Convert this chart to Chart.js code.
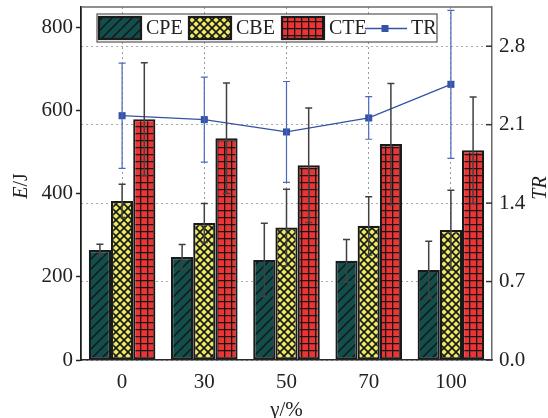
<!DOCTYPE html>
<html>
<head>
<meta charset="utf-8">
<title>E/J and TR</title>
<script src="https://cdn.jsdelivr.net/npm/chart.js@4.4.1/dist/chart.umd.min.js"></script>
<style>
  html, body { margin: 0; padding: 0; background: #fff; }
  #wrap { width: 548px; height: 418px; }
</style>
</head>
<body>
<div id="wrap"><canvas id="chart" width="548" height="418"></canvas></div>
<script>
/*=========================================================
DATA
=========================================================*/

const categories = ["0", "30", "50", "70", "100"];

const cpeValues = [265, 248, 241, 239, 217];
const cpeErrors = [14, 30, 88, 51, 69];

const cbeValues = [383, 330, 319, 323, 313];
const cbeErrors = [40, 47, 92, 70, 96];

const cteValues = [580, 534, 469, 520, 505];
const cteErrors = [136, 133, 138, 146, 128];

const trValues = [2.18, 2.145, 2.035, 2.16, 2.46];
const trErrors = [0.47, 0.38, 0.45, 0.19, 0.66];

const energyTicks = [0, 200, 400, 600, 800];
const trTicks = [0, 0.7, 1.4, 2.1, 2.8];

/*=========================================================
PATTERNS
=========================================================*/

const SERIF = "'Liberation Serif', 'Times New Roman', serif";
const TR_BLUE = "#3453a8";

function makePattern(size, bg, lineWidth, drawLines) {
  const c = document.createElement("canvas");
  c.width = size;
  c.height = size;
  const g = c.getContext("2d");
  g.fillStyle = bg;
  g.fillRect(0, 0, size, size);
  g.strokeStyle = "#161616";
  g.lineWidth = lineWidth;
  drawLines(g, size);
  return g.createPattern(c, "repeat");
}

// diagonal hatch "/"
const cpeFill = makePattern(10, "#124f4c", 1.5, (g, s) => {
  g.beginPath();
  g.moveTo(-2, s + 2);
  g.lineTo(s + 2, -2);
  g.moveTo(-2, 2);
  g.lineTo(2, -2);
  g.moveTo(s - 2, s + 2);
  g.lineTo(s + 2, s - 2);
  g.stroke();
});

// cross hatch "x"
const cbeFill = makePattern(8, "#ece962", 1.6, (g, s) => {
  g.beginPath();
  g.moveTo(-1, s + 1);
  g.lineTo(s + 1, -1);
  g.moveTo(-1, -1);
  g.lineTo(s + 1, s + 1);
  g.stroke();
});

// square grid "+"
const cteFill = makePattern(7, "#ec3434", 1.6, (g, s) => {
  g.beginPath();
  g.moveTo(0, 0.5);
  g.lineTo(s, 0.5);
  g.moveTo(0.5, 0);
  g.lineTo(0.5, s);
  g.stroke();
});

/*=========================================================
PLUGIN: ERROR BARS, LEGEND, TITLES
=========================================================*/

function drawErrorBar(ctx, x, yTop, yBottom, cap) {
  ctx.beginPath();
  ctx.moveTo(x, yTop);
  ctx.lineTo(x, yBottom);
  ctx.moveTo(x - cap, yTop);
  ctx.lineTo(x + cap, yTop);
  ctx.moveTo(x - cap, yBottom);
  ctx.lineTo(x + cap, yBottom);
  ctx.stroke();
}

const errorSets = [cpeErrors, cbeErrors, cteErrors, trErrors];

const extrasPlugin = {
  id: "extras",

  afterDatasetsDraw(chart) {
    const ctx = chart.ctx;

    ctx.save();

    chart.data.datasets.forEach((ds, di) => {
      const meta = chart.getDatasetMeta(di);
      const scale = chart.scales[ds.yAxisID];
      const errs = errorSets[di];
      const isLine = ds.type === "line";

      ctx.strokeStyle = isLine ? "#4c68ba" : "#404040";
      ctx.lineWidth = isLine ? 1.2 : 1.5;

      meta.data.forEach((el, i) => {
        const v = ds.data[i];
        drawErrorBar(
          ctx,
          el.x,
          scale.getPixelForValue(v + errs[i]),
          scale.getPixelForValue(v - errs[i]),
          3.5,
        );
      });
    });

    ctx.restore();
  },

  afterDraw(chart) {
    const ctx = chart.ctx;
    const area = chart.chartArea;
    const y1 = chart.scales.y1;

    ctx.save();

    // top frame line
    ctx.strokeStyle = "#6a6a6a";
    ctx.lineWidth = 1.5;
    ctx.beginPath();
    ctx.moveTo(area.left, area.top);
    ctx.lineTo(area.right, area.top);
    ctx.stroke();

    // inward ticks on the right axis
    ctx.strokeStyle = "#333";
    trTicks.forEach((t) => {
      const y = y1.getPixelForValue(t);
      ctx.beginPath();
      ctx.moveTo(area.right - 6, y);
      ctx.lineTo(area.right, y);
      ctx.stroke();
    });

    // legend
    ctx.fillStyle = "#fff";
    ctx.fillRect(97, 14, 340, 28);
    ctx.strokeStyle = "#555";
    ctx.lineWidth = 1.2;
    ctx.strokeRect(97, 14, 340, 28);

    ctx.font = "20px " + SERIF;
    ctx.textBaseline = "middle";
    ctx.textAlign = "left";

    const swatches = [
      { x: 99, fill: cpeFill, label: chart.data.datasets[0].label },
      { x: 189, fill: cbeFill, label: chart.data.datasets[1].label },
      { x: 282, fill: cteFill, label: chart.data.datasets[2].label },
    ];

    swatches.forEach((s) => {
      ctx.fillStyle = s.fill;
      ctx.fillRect(s.x, 17, 42, 22);
      ctx.strokeStyle = "#1a1a1a";
      ctx.lineWidth = 2.2;
      ctx.strokeRect(s.x, 17, 42, 22);
      ctx.fillStyle = "#222";
      ctx.fillText(s.label, s.x + 47, 29);
    });

    ctx.strokeStyle = TR_BLUE;
    ctx.lineWidth = 1.3;
    ctx.beginPath();
    ctx.moveTo(365, 28.5);
    ctx.lineTo(407, 28.5);
    ctx.stroke();
    ctx.fillStyle = TR_BLUE;
    ctx.fillRect(381.5, 25, 7, 7);
    ctx.fillStyle = "#222";
    ctx.fillText(chart.data.datasets[3].label, 411, 29);

    // axis titles
    ctx.fillStyle = "#222";
    ctx.textAlign = "center";
    ctx.font = "21px " + SERIF;
    ctx.fillText("γ/%", (area.left + area.right) / 2, 410);

    ctx.save();
    ctx.translate(22, 186);
    ctx.rotate(-Math.PI / 2);
    ctx.font = "italic 20px " + SERIF;
    const wE = ctx.measureText("E").width;
    ctx.font = "20px " + SERIF;
    const wJ = ctx.measureText("/J").width;
    ctx.textAlign = "left";
    ctx.font = "italic 20px " + SERIF;
    ctx.fillText("E", -(wE + wJ) / 2, 0);
    ctx.font = "20px " + SERIF;
    ctx.fillText("/J", -(wE + wJ) / 2 + wE, 0);
    ctx.restore();

    ctx.save();
    ctx.translate(541, 188);
    ctx.rotate(-Math.PI / 2);
    ctx.font = "italic 20px " + SERIF;
    ctx.textAlign = "center";
    ctx.fillText("TR", 0, 0);
    ctx.restore();

    ctx.restore();
  },
};

/*=========================================================
CHART
=========================================================*/

const tickFont = { family: SERIF, size: 21 };

function barSet(label, values, fill) {
  return {
    type: "bar",
    label: label,
    data: values,
    yAxisID: "y",
    backgroundColor: fill,
    borderColor: "#1a1a1a",
    borderWidth: 2.2,
    borderSkipped: false,
    categoryPercentage: 0.81,
    barPercentage: 1,
    order: 1,
  };
}

new Chart(document.getElementById("chart"), {
  data: {
    labels: categories,
    datasets: [
      barSet("CPE", cpeValues, cpeFill),
      barSet("CBE", cbeValues, cbeFill),
      barSet("CTE", cteValues, cteFill),
      {
        type: "line",
        label: "TR",
        data: trValues,
        yAxisID: "y1",
        borderColor: TR_BLUE,
        borderWidth: 1.3,
        pointStyle: "rect",
        pointRadius: 5,
        pointBackgroundColor: TR_BLUE,
        pointBorderColor: TR_BLUE,
        pointBorderWidth: 0,
        tension: 0,
        order: 0,
      },
    ],
  },
  options: {
    responsive: false,
    animation: false,
    devicePixelRatio: 1,
    layout: { padding: { top: 7, left: 0, right: 0, bottom: 0 } },
    plugins: {
      legend: { display: false },
      tooltip: { enabled: false },
    },
    scales: {
      x: {
        offset: true,
        ticks: { font: tickFont, color: "#222", padding: 10, maxRotation: 0 },
        grid: {
          offset: false,
          drawTicks: false,
          color: "#9a9a9a",
          lineWidth: 1,
        },
        border: { color: "#2a2a2a", width: 1.5, dash: [2, 3] },
        afterFit: (s) => {
          s.height = 58;
          s.paddingLeft = 0;
          s.paddingRight = 0;
        },
      },
      y: {
        position: "left",
        min: 0,
        max: 850,
        afterBuildTicks: (s) => {
          s.ticks = energyTicks.map((v) => ({ value: v }));
        },
        ticks: { font: tickFont, color: "#222", padding: 3 },
        grid: {
          drawOnChartArea: false,
          tickLength: 5,
          tickColor: "#222",
          tickWidth: 1.5,
        },
        border: { color: "#1e1e1e", width: 1.8 },
        afterFit: (s) => {
          s.width = 81;
          s.paddingTop = 0;
          s.paddingBottom = 0;
        },
      },
      y1: {
        position: "right",
        min: 0,
        max: 3.15,
        afterBuildTicks: (s) => {
          s.ticks = trTicks.map((v) => ({ value: v }));
        },
        ticks: {
          font: tickFont,
          color: "#222",
          padding: 7,
          callback: (v) => Number(v).toFixed(1),
        },
        grid: { drawTicks: false, color: "#ababab", lineWidth: 1 },
        border: { color: "#6a6a6a", width: 1.5, dash: [2, 3] },
        afterFit: (s) => {
          s.width = 56;
          s.paddingTop = 0;
          s.paddingBottom = 0;
        },
      },
    },
  },
  plugins: [extrasPlugin],
});
</script>
</body>
</html>
